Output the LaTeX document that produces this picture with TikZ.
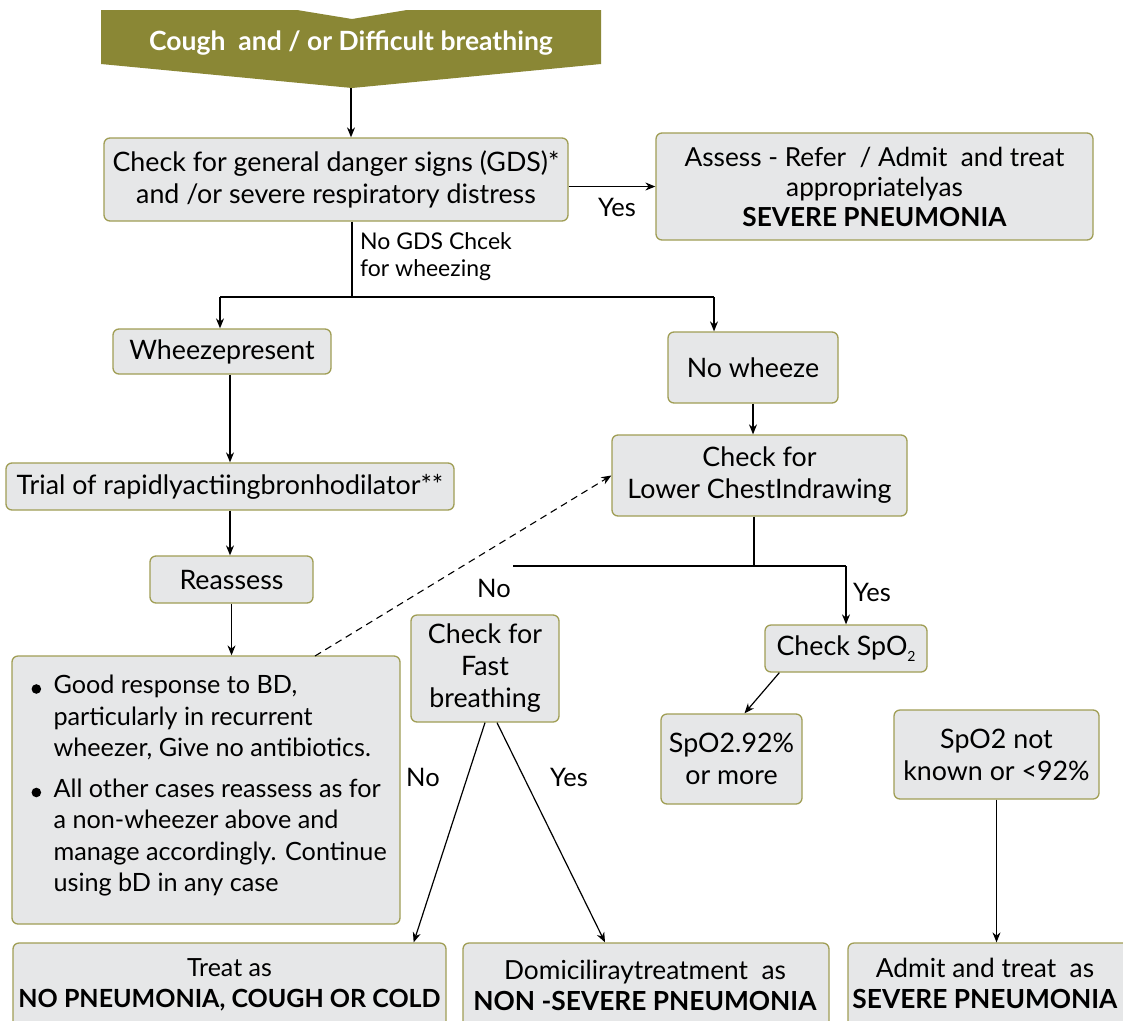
\documentclass[tikz,border=0pt]{standalone}
\usepackage{fontspec}
\setmainfont{Lato}
\usetikzlibrary{arrows.meta,calc}
\definecolor{olive}{HTML}{8A8735}
\definecolor{boxfill}{HTML}{E6E7E8}
\definecolor{boxline}{HTML}{A09E55}
\newcommand{\bul}{\makebox[22pt][l]{\tikz[baseline=-5pt]\fill (0,0) circle (4.8pt);}}
\begin{document}
\begin{tikzpicture}[x=1pt,y=-1pt,
  box/.style={draw=boxline,fill=boxfill,line width=1.3pt,rounded corners=6pt,align=center,inner sep=0pt,
    font=\fontsize{26.8}{32}\selectfont},
  arr/.style={line width=1.2pt,-{Stealth[length=10pt,width=8pt]}},
  ln/.style={line width=1.2pt},
  lbl/.style={font=\fontsize{25.5}{30}\selectfont,inner sep=0pt},
  slbl/.style={font=\fontsize{23}{27}\selectfont,inner sep=0pt,align=left}]
\useasboundingbox[fill=white] (0,0) rectangle (1123,1020);
% top banner
\fill[olive] (101,10) -- (297,10) -- (352,19) -- (407,10) -- (601,10) -- (601,64) -- (352,88) -- (101,64) -- cycle;
\node[font=\bfseries\fontsize{26.5}{30}\selectfont,text=white,inner sep=0pt] (top) at (351,43) {Cough\ \ and / or Difficult breathing};
\coordinate (toptip) at (351,88);
% boxes
\node[box,minimum width=464pt,minimum height=83pt] (gds) at (336,179.5) {Check for general danger signs (GDS)*\\and /or severe respiratory distress};
\node[box,minimum width=437pt,minimum height=107pt,font=\fontsize{26.2}{30}\selectfont] (assess) at (874.5,186.5) {Assess - Refer\ \ / Admit\ \ and treat\\appropriatelyas\\\textbf{SEVERE PNEUMONIA}};
\node[box,minimum width=218pt,minimum height=45pt] (wheeze) at (222,351.5) {Wheezepresent};
\node[box,minimum width=170pt,minimum height=71pt] (nowheeze) at (753,367.5) {No wheeze};
\node[box,minimum width=448pt,minimum height=47pt] (trial) at (230,486.5) {Trial of rapidlyactiingbronhodilator**};
\node[box,minimum width=163pt,minimum height=47pt] (reassess) at (231.5,579.5) {Reassess};
\node[box,minimum width=388pt,minimum height=268pt] (bullets) at (206,790) {};
\node[anchor=west,align=left,inner sep=0pt,font=\fontsize{25.2}{31.5}\selectfont] (bultext) at ([xshift=20pt,yshift=4pt]bullets.west) {%
\bul Good response to BD,\\
\hspace*{22pt}particularly in recurrent\\
\hspace*{22pt}wheezer, Give no antibiotics.\\[9pt]
\bul All other cases reassess as for\\
\hspace*{22pt}a non-wheezer above and\\
\hspace*{22pt}manage accordingly. Continue\\
\hspace*{22pt}using bD in any case};
\node[box,minimum width=295pt,minimum height=81pt] (lci) at (759.5,475.5) {Check for\\Lower ChestIndrawing};
\node[box,minimum width=148pt,minimum height=107pt] (fast) at (485,668.5) {Check for\\Fast\\breathing};
\node[box,minimum width=162pt,minimum height=47pt] (spo2) at (846,648.5) {Check SpO\raisebox{-6pt}{\fontsize{14}{14}\selectfont 2}};
\node[box,minimum width=141pt,minimum height=90pt] (spo92) at (731.5,759) {SpO2.92\%\\or more};
\node[box,minimum width=205pt,minimum height=89pt] (spnk) at (996.5,754.5) {SpO2 not\\known or <92\%};
\node[box,minimum width=433pt,minimum height=100pt] (treat) at (229.5,993) {};
\node[box,minimum width=366pt,minimum height=100pt] (domic) at (646,993) {};
\node[box,minimum width=282pt,minimum height=100pt] (admit) at (989,993) {};
\node[align=center,inner sep=0pt,font=\fontsize{25}{31}\selectfont] (treatt) at (229.5,985) {Treat as\\\textbf{NO PNEUMONIA, COUGH OR COLD}};
\node[align=center,inner sep=0pt,font=\fontsize{26.3}{31}\selectfont] (domict) at (645,985) {Domiciliraytreatment\ \ as\\\textbf{NON -SEVERE PNEUMONIA}};
\node[align=center,inner sep=0pt,font=\fontsize{26.3}{31}\selectfont] (admitt) at (985,983) {Admit and treat\ \ as\\\textbf{SEVERE PNEUMONIA}};
% connectors
\draw[arr] (toptip) -- (toptip |- gds.north);
\draw[arr] (gds.east |- assess.west) -- (assess.west);
\node[lbl] (yes1) at (617,207) {Yes};
\coordinate (split1) at (352,297);
\coordinate (splitL) at (220,297);
\coordinate (splitR) at (714,297);
\draw[ln] (split1 |- gds.south) -- (split1);
\draw[ln] (splitL) -- (splitR);
\draw[arr] (splitL) -- (splitL |- wheeze.north);
\draw[arr] (splitR) -- (splitR |- nowheeze.north);
\node[slbl,anchor=west] (nogds) at (360,257) {No GDS Chcek\\for wheezing};
\draw[arr] (wheeze.south -| trial.north) -- (trial.north);
\draw[arr] (trial.south) -- (trial.south |- reassess.north);
\draw[arr] (reassess.south) -- (reassess.south |- bullets.north);
\coordinate (dS) at (315,656);
\draw[line width=1.1pt,dash pattern=on 7pt off 5pt,-{Stealth[length=10pt,width=8pt]}] (dS) -- (lci.west);
\draw[arr] (nowheeze.south) -- (nowheeze.south |- lci.north);
\coordinate (sp2) at (754,566);
\coordinate (noend) at (513,566);
\coordinate (yesc) at (846,566);
\draw[ln] (sp2 |- lci.south) -- (sp2);
\draw[ln] (noend) -- (yesc);
\draw[arr] (yesc) -- (spo2.north);
\node[lbl] (no2) at (494,588) {No};
\node[lbl] (yes2) at (872,592) {Yes};
\draw[arr] ([xshift=15pt]spo2.south west) -- ([xshift=13pt]spo92.north);
\draw[arr] (spnk.south) -- (spnk.south |- admit.north);
\draw[arr] (fast.south) -- ([xshift=-33pt]treat.north east);
\draw[arr] ([xshift=12pt]fast.south) -- ([xshift=-41pt]domic.north);
\node[lbl] (no3) at (423,777) {No};
\node[lbl] (yes3) at (569,777) {Yes};
\end{tikzpicture}
\end{document}
